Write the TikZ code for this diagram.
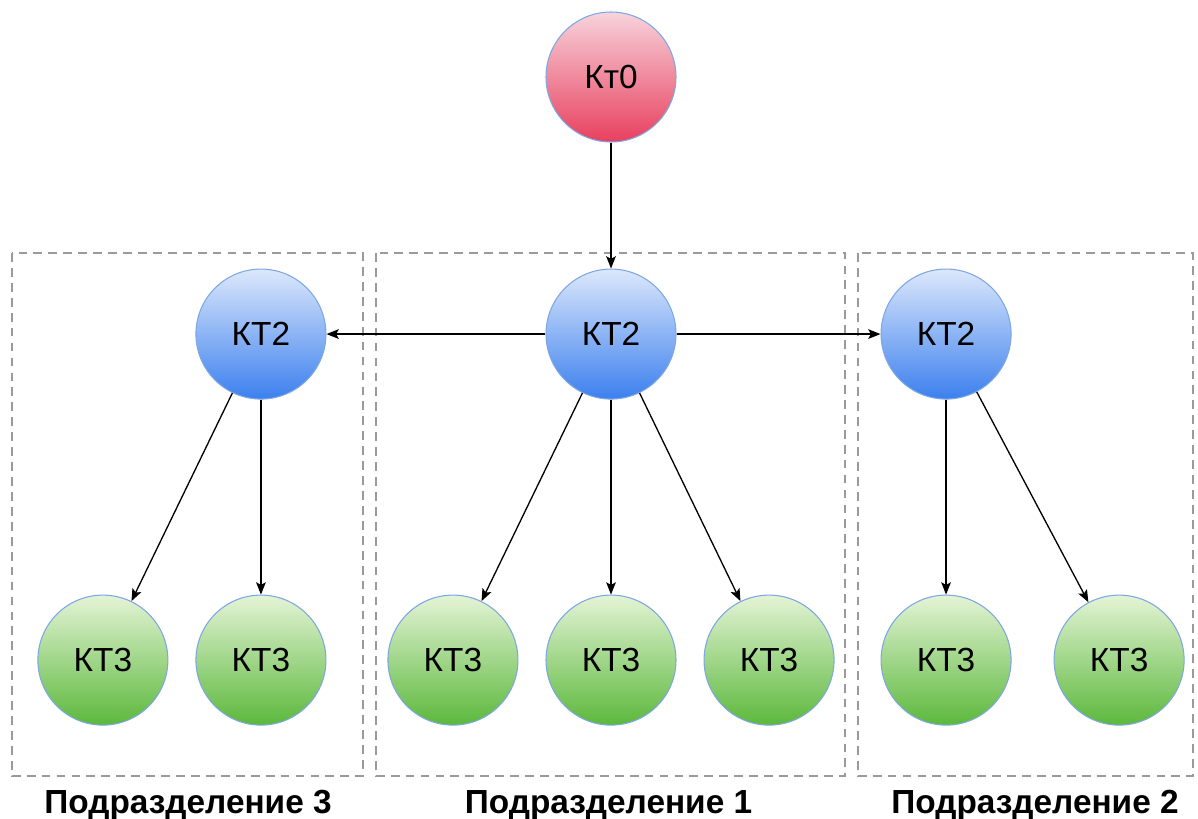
\documentclass[tikz,border=0pt]{standalone}
\usepackage{fontspec}
\setmainfont{Liberation Sans}
\usetikzlibrary{arrows.meta, positioning}

\definecolor{rim}{HTML}{7DA7E3}
\definecolor{redtop}{HTML}{F7D3DB}
\definecolor{redbot}{HTML}{E8405E}
\definecolor{bluetop}{HTML}{DCE8FB}
\definecolor{bluebot}{HTML}{3C80EE}
\definecolor{grntop}{HTML}{E4F4D6}
\definecolor{grnbot}{HTML}{5CB83C}
\definecolor{boxgray}{HTML}{9A9A9A}

\begin{document}
\begin{tikzpicture}[
        kt/.style={circle, draw=rim, line width=0.6pt, minimum size=2.6cm, inner sep=0pt,
                   font=\fontsize{19}{22}\selectfont},
        k0/.style={kt, top color=redtop, bottom color=redbot},
        k2/.style={kt, top color=bluetop, bottom color=bluebot},
        k3/.style={kt, top color=grntop, bottom color=grnbot},
        arr/.style={-{Stealth[length=7pt,width=5.5pt,inset=1.5pt]}, line width=0.75pt, black},
        part/.style={draw=boxgray, line width=0.8pt, dash pattern=on 5pt off 3.5pt},
        lbl/.style={anchor=base, font=\fontsize{19}{22}\selectfont\bfseries}]
      \useasboundingbox (0,0) rectangle (23.96,-16.36);
      % departments
      \draw[part] (0.24,-5.06) rectangle (7.26,-15.52);
      \draw[part] (7.52,-5.06) rectangle (16.9,-15.52);
      \draw[part] (17.16,-5.06) rectangle (23.86,-15.52);
      \node[lbl] (p3) at (3.76,-16.26) {Подразделение 3};
      \node[lbl] (p1) at (12.17,-16.26) {Подразделение 1};
      \node[lbl] (p2) at (20.7,-16.26) {Подразделение 2};
      % nodes
      \node[k0] (top) at (12.22,-1.54) {Кт0};
      \node[k2, below=2.52cm of top] (mid) {КТ2};
      \node[k2, left=4.38cm of mid] (lft) {КТ2};
      \node[k2, right=4.08cm of mid] (rgt) {КТ2};
      \node[k3, below=3.9cm of mid] (m2) {КТ3};
      \node[k3, left=0.54cm of m2] (m1) {КТ3};
      \node[k3, right=0.54cm of m2] (m3) {КТ3};
      \node[k3, below=3.9cm of lft] (l2) {КТ3};
      \node[k3, left=0.54cm of l2] (l1) {КТ3};
      \node[k3, below=3.9cm of rgt] (r1) {КТ3};
      \node[k3, right=0.84cm of r1] (r2) {КТ3};
      % links
      \draw[arr] (top) -- (mid);
      \draw[arr] (mid) -- (lft);
      \draw[arr] (mid) -- (rgt);
      \draw[arr] (mid) -- (m1);
      \draw[arr] (mid) -- (m2);
      \draw[arr] (mid) -- (m3);
      \draw[arr] (lft) -- (l1);
      \draw[arr] (lft) -- (l2);
      \draw[arr] (rgt) -- (r1);
      \draw[arr] (rgt) -- (r2);
\end{tikzpicture}
\end{document}
